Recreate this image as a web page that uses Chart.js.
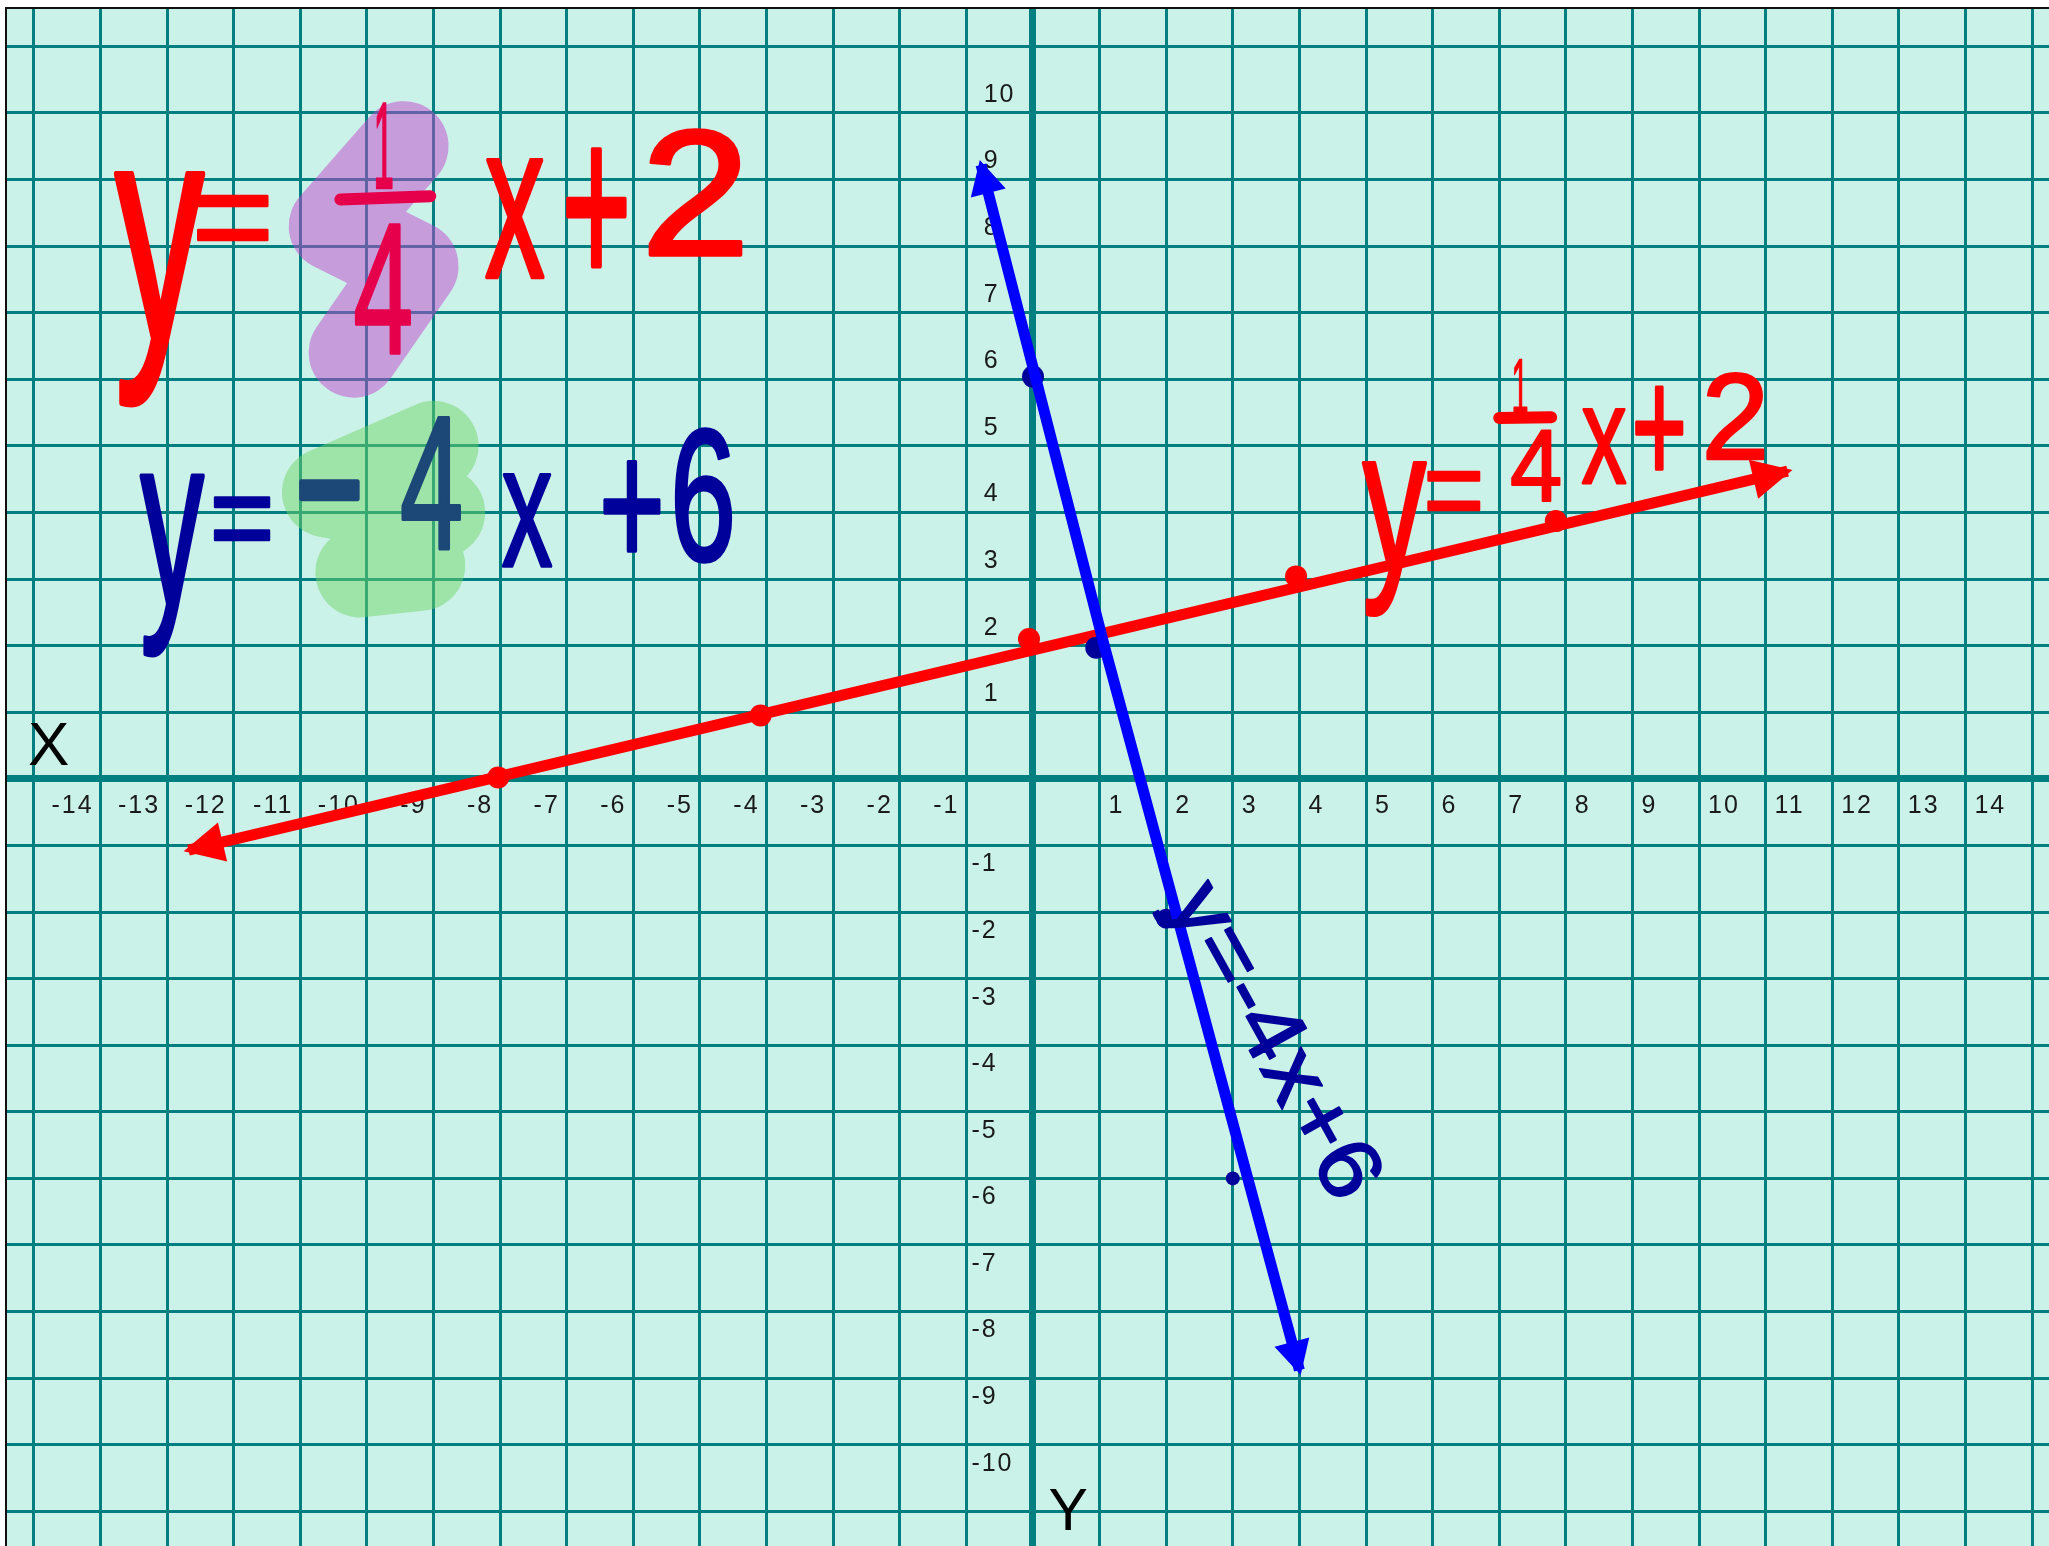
<!DOCTYPE html>
<html>
<head>
<meta charset="utf-8">
<title>y = 1/4 x + 2 and y = -4x + 6</title>
<script src="https://cdn.jsdelivr.net/npm/chart.js@4.4.1/dist/chart.umd.min.js"></script>
<style>
  html, body { margin: 0; padding: 0; background: #fff; }
  #wrap {
    position: absolute; left: 5px; top: 7px;
    border-left: 2px solid #111; border-top: 2px solid #111;
  }
  canvas { display: block; }
</style>
</head>
<body>
<div id="wrap"><canvas id="graph" width="2042" height="1537"></canvas></div>
<script>
// axis ranges (grid units)
const xMin = -15.405, xMax = 15.255;
const yMin = -11.52, yMax = 11.56;

// tick labels
const xTickValues = [-14, -13, -12, -11, -10, -9, -8, -7, -6, -5, -4, -3, -2, -1,
                     1, 2, 3, 4, 5, 6, 7, 8, 9, 10, 11, 12, 13, 14];
const yTickValues = [10, 9, 8, 7, 6, 5, 4, 3, 2, 1,
                     -1, -2, -3, -4, -5, -6, -7, -8, -9, -10];

// red line  y = 1/4 x + 2 (hand drawn, arrow tips)
const redLineX = [-12.68, 11.33];
const redLineY = [-1.07, 4.62];
// red dots on it
const redDotsX = [-8.03, -4.09, -0.06, 3.95, 7.85];
const redDotsY = [0.02, 0.95, 2.1, 3.04, 3.87];

// blue line  y = -4x + 6 (hand drawn, arrow tips)
const blueLineX = [-0.78, 1.07, 4.0];
const blueLineY = [9.22, 2.0, -8.88];
// navy dots
const navyDotsX = [0.0, 0.95, 2.0, 3.0];
const navyDotsY = [6.04, 1.97, -2.1, -6.0];
const navyDotsR = [11, 11, 10, 7];

const RED = '#FF0000';
const CRIMSON = '#E6004C';
const NAVY = '#00009A';
const DEEP = '#1C4877';
const TEAL = '#007F80';

function toPoints(xs, ys) {
  return xs.map((x, i) => ({ x: x, y: ys[i] }));
}

// handwritten glyphs: [text, left, top, right, bottom] in grid units
const notes = [
  ['y', -13.78, 9.09, -12.45, 5.61, RED],
  ['=', -12.54, 8.76, -11.5, 8.09, RED],
  ['1', -9.86, 10.14, -9.62, 8.87, CRIMSON],
  ['4', -10.17, 8.31, -9.35, 6.38, CRIMSON],
  ['x', -8.21, 9.31, -7.35, 7.54, RED],
  ['+', -7.0, 9.48, -6.12, 7.71, RED],
  ['2', -5.74, 9.75, -4.38, 7.87, RED],

  ['y', -13.4, 4.56, -12.45, 1.85, NAVY],
  ['=', -12.29, 4.23, -11.47, 3.59, NAVY],
  ['-', -11.0, 4.47, -10.14, 4.2, DEEP],
  ['4', -9.47, 5.41, -8.6, 3.43, DEEP],
  ['x', -7.96, 4.59, -7.23, 3.2, NAVY],
  ['+', -6.44, 4.78, -5.61, 3.43, NAVY],
  ['6', -5.36, 5.25, -4.53, 3.26, NAVY],

  ['y', 4.95, 4.74, 5.9, 2.46, RED],
  ['=', 5.93, 4.6, 6.7, 4.03, RED],
  ['1', 7.22, 6.31, 7.42, 5.5, RED],
  ['4', 7.19, 5.23, 7.91, 4.16, RED],
  ['x', 8.25, 5.56, 8.9, 4.44, RED],
  ['+', 9.05, 5.9, 9.75, 4.66, RED],
  ['2', 10.13, 6.1, 10.97, 4.81, RED]
];
// fraction bars [x1, y1, x2, y2, colour]
const bars = [
  [-10.4, 8.7, -9.05, 8.75, CRIMSON],
  [7.0, 5.42, 7.78, 5.43, RED]
];
// highlighter strokes
const marks = [
  { color: 'rgba(196, 70, 206, 0.5)', pts: [[-9.45, 9.5], [-10.5, 8.3], [-9.3, 7.7], [-10.2, 6.4]] },
  { color: 'rgba(114, 212, 104, 0.5)', pts: [[-9.0, 5.0], [-10.6, 4.3], [-8.9, 4.0], [-10.1, 3.1], [-9.2, 3.2]] }
];

function fitText(ctx, text, x0, y0, x1, y1, color) {
  ctx.font = '200px "Liberation Sans", Arial, sans-serif';
  const m = ctx.measureText(text);
  const w = m.actualBoundingBoxLeft + m.actualBoundingBoxRight;
  const h = m.actualBoundingBoxAscent + m.actualBoundingBoxDescent;
  ctx.save();
  ctx.translate(x0, y0);
  ctx.scale((x1 - x0) / w, (y1 - y0) / h);
  ctx.textAlign = 'left';
  ctx.textBaseline = 'alphabetic';
  ctx.fillStyle = color;
  ctx.strokeStyle = color;
  ctx.lineWidth = 4;
  ctx.lineJoin = 'round';
  ctx.fillText(text, m.actualBoundingBoxLeft, m.actualBoundingBoxAscent);
  ctx.strokeText(text, m.actualBoundingBoxLeft, m.actualBoundingBoxAscent);
  ctx.restore();
}

const paperPlugin = {
  id: 'paper',
  beforeDraw(chart) {
    const ctx = chart.ctx;
    ctx.save();
    ctx.fillStyle = '#CBF2E9';
    ctx.fillRect(0, 0, chart.width, chart.height);
    ctx.restore();
  },
  beforeDatasetsDraw(chart) {
    const ctx = chart.ctx;
    const sx = chart.scales.x, sy = chart.scales.y;
    const px = v => sx.getPixelForValue(v);
    const py = v => sy.getPixelForValue(v);

    // highlighter
    marks.forEach(mk => {
      ctx.save();
      ctx.strokeStyle = mk.color;
      ctx.lineWidth = 90;
      ctx.lineCap = 'round';
      ctx.lineJoin = 'round';
      ctx.beginPath();
      mk.pts.forEach((p, i) => i ? ctx.lineTo(px(p[0]), py(p[1])) : ctx.moveTo(px(p[0]), py(p[1])));
      ctx.stroke();
      ctx.restore();
    });

    // tick labels
    ctx.save();
    ctx.font = '25px "Liberation Sans", Arial, sans-serif';
    ctx.letterSpacing = '2px';
    ctx.fillStyle = '#1a1a1a';
    ctx.textBaseline = 'middle';
    xTickValues.forEach(v => {
      ctx.textAlign = v < 0 ? 'right' : 'left';
      ctx.fillText(String(v), px(v) + (v < 0 ? -7 : 9), py(0) + 27);
    });
    const dash = ctx.measureText('-').width;
    ctx.textAlign = 'left';
    yTickValues.forEach(v => {
      const x = px(-1) + 5 + (v > 0 ? dash + 2 : 0);
      ctx.fillText(String(v), x, py(v) + (v > 0 ? -18 : 19));
    });
    ctx.restore();
  },
  afterDatasetsDraw(chart) {
    const ctx = chart.ctx;
    const sx = chart.scales.x, sy = chart.scales.y;
    const px = v => sx.getPixelForValue(v);
    const py = v => sy.getPixelForValue(v);

    // arrow heads at both ends of the lines
    chart.data.datasets.forEach((ds, i) => {
      if (!ds.arrow) return;
      const pts = chart.getDatasetMeta(i).data;
      const ends = [[pts[0], pts[1]], [pts[pts.length - 1], pts[pts.length - 2]]];
      ends.forEach(([tip, prev]) => {
        const a = Math.atan2(tip.y - prev.y, tip.x - prev.x);
        const len = ds.arrow.len, hw = ds.arrow.hw;
        const tx = tip.x + Math.cos(a) * 5, ty = tip.y + Math.sin(a) * 5;
        ctx.save();
        ctx.fillStyle = ds.borderColor;
        ctx.beginPath();
        ctx.moveTo(tx, ty);
        ctx.lineTo(tx - Math.cos(a) * len - Math.sin(a) * hw, ty - Math.sin(a) * len + Math.cos(a) * hw);
        ctx.lineTo(tx - Math.cos(a) * len + Math.sin(a) * hw, ty - Math.sin(a) * len - Math.cos(a) * hw);
        ctx.closePath();
        ctx.fill();
        ctx.restore();
      });
    });

    // handwriting
    notes.forEach(n => fitText(ctx, n[0], px(n[1]), py(n[2]), px(n[3]), py(n[4]), n[5]));
    bars.forEach(b => {
      ctx.save();
      ctx.strokeStyle = b[4];
      ctx.lineWidth = 12;
      ctx.lineCap = 'round';
      ctx.beginPath();
      ctx.moveTo(px(b[0]), py(b[1]));
      ctx.lineTo(px(b[2]), py(b[3]));
      ctx.stroke();
      ctx.restore();
    });

    // rotated label next to the blue line
    ctx.save();
    ctx.translate(px(3.55), py(-3.95));
    ctx.rotate(61 * Math.PI / 180);
    fitText(ctx, 'y=-4x+6', -172, -40, 172, 40, NAVY);
    ctx.restore();

    // axis letters
    ctx.save();
    ctx.fillStyle = '#000';
    ctx.textAlign = 'center';
    ctx.textBaseline = 'middle';
    ctx.font = '62px "Liberation Sans", Arial, sans-serif';
    ctx.fillText('X', px(-14.78), py(0.47));
    ctx.font = '59px "Liberation Sans", Arial, sans-serif';
    ctx.fillText('Y', px(0.53), py(-11.04));
    ctx.restore();
  }
};

const gridOpts = {
  color: TEAL,
  lineWidth: c => (c.tick && c.tick.value === 0 ? 7 : 3),
  drawTicks: false
};

new Chart(document.getElementById('graph'), {
  type: 'scatter',
  data: {
    datasets: [
      {
        label: 'y = -4x + 6',
        data: toPoints(blueLineX, blueLineY),
        showLine: true,
        borderColor: '#0000FF',
        borderWidth: 11,
        borderJoinStyle: 'round',
        pointRadius: 0,
        order: 0,
        arrow: { len: 34, hw: 18 }
      },
      {
        label: 'points on y = -4x + 6',
        data: toPoints(navyDotsX, navyDotsY),
        backgroundColor: NAVY,
        borderWidth: 0,
        pointRadius: navyDotsR,
        order: 1
      },
      {
        label: 'y = 1/4 x + 2',
        data: toPoints(redLineX, redLineY),
        showLine: true,
        borderColor: RED,
        borderWidth: 11,
        pointRadius: 0,
        order: 2,
        arrow: { len: 40, hw: 20 }
      },
      {
        label: 'points on y = 1/4 x + 2',
        data: toPoints(redDotsX, redDotsY),
        backgroundColor: RED,
        borderWidth: 0,
        pointRadius: 11,
        order: 3
      }
    ]
  },
  options: {
    responsive: false,
    animation: false,
    devicePixelRatio: 1,
    layout: { padding: 0, autoPadding: false },
    plugins: {
      legend: { display: false },
      tooltip: { enabled: false }
    },
    scales: {
      x: {
        type: 'linear',
        min: xMin, max: xMax,
        ticks: { stepSize: 1, display: false, includeBounds: false },
        grid: gridOpts,
        border: { display: false }
      },
      y: {
        type: 'linear',
        min: yMin, max: yMax,
        ticks: { stepSize: 1, display: false, includeBounds: false },
        grid: gridOpts,
        border: { display: false }
      }
    }
  },
  plugins: [paperPlugin]
});
</script>
</body>
</html>
